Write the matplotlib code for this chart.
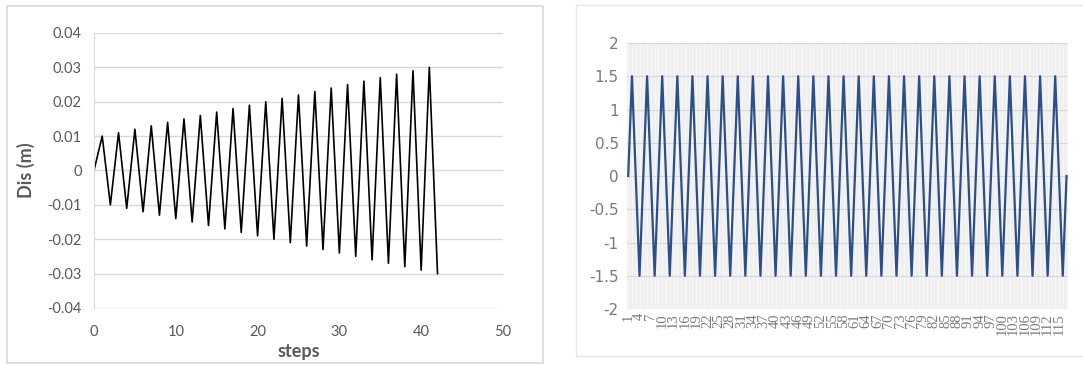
import matplotlib

matplotlib.use("Agg")
import matplotlib.pyplot as plt
from matplotlib.patches import Rectangle

# left panel: displacement protocol
steps = list(range(0, 43))
dis = [
    0.0,
    0.010, -0.010, 0.011, -0.011, 0.012, -0.012, 0.013, -0.013,
    0.014, -0.014, 0.015, -0.015, 0.016, -0.016, 0.017, -0.017,
    0.018, -0.018, 0.019, -0.019, 0.020, -0.020, 0.021, -0.021,
    0.022, -0.022, 0.023, -0.023, 0.024, -0.024, 0.025, -0.025,
    0.026, -0.026, 0.027, -0.027, 0.028, -0.028, 0.029, -0.029,
    0.030, -0.030,
]
left_yticks = [-0.04, -0.03, -0.02, -0.01, 0, 0.01, 0.02, 0.03, 0.04]
left_ylabels = ["-0.04", "-0.03", "-0.02", "-0.01", "0", "0.01", "0.02", "0.03", "0.04"]
left_xticks = [0, 10, 20, 30, 40, 50]

# right panel: constant amplitude cycles
categories = list(range(1, 118))
amp = [
    0, 1.5, 0, -1.5, 0, 1.5, 0, -1.5, 0, 1.5, 0, -1.5,
    0, 1.5, 0, -1.5, 0, 1.5, 0, -1.5, 0, 1.5, 0, -1.5,
    0, 1.5, 0, -1.5, 0, 1.5, 0, -1.5, 0, 1.5, 0, -1.5,
    0, 1.5, 0, -1.5, 0, 1.5, 0, -1.5, 0, 1.5, 0, -1.5,
    0, 1.5, 0, -1.5, 0, 1.5, 0, -1.5, 0, 1.5, 0, -1.5,
    0, 1.5, 0, -1.5, 0, 1.5, 0, -1.5, 0, 1.5, 0, -1.5,
    0, 1.5, 0, -1.5, 0, 1.5, 0, -1.5, 0, 1.5, 0, -1.5,
    0, 1.5, 0, -1.5, 0, 1.5, 0, -1.5, 0, 1.5, 0, -1.5,
    0, 1.5, 0, -1.5, 0, 1.5, 0, -1.5, 0, 1.5, 0, -1.5,
    0, 1.5, 0, -1.5, 0, 1.5, 0, -1.5,
    0,
]
right_yticks = [-2, -1.5, -1, -0.5, 0, 0.5, 1, 1.5, 2]
right_ylabels = ["-2", "-1.5", "-1", "-0.5", "0", "0.5", "1", "1.5", "2"]
right_xlabels = [str(c) for c in categories[::3]]

GREY = "#595959"
GRID = "#d9d9d9"

plt.rcParams["font.family"] = ["Lato", "DejaVu Sans"]

fig = plt.figure(figsize=(10.83, 3.66), dpi=100)

# chart-area frames
fig.patches.append(Rectangle((7 / 1083, 3 / 366), 536 / 1083, 357 / 366,
                             transform=fig.transFigure, fill=False,
                             edgecolor="#d9d9d9", lw=1.2))
fig.patches.append(Rectangle((576 / 1083, 10 / 366), 520 / 1083, 351 / 366,
                             transform=fig.transFigure, fill=False,
                             edgecolor="#e6e6e6", lw=1.0))

# ---- left
ax = fig.add_axes([0.0868, 0.1585, 0.3776, 0.7514])
ax.plot(steps, dis, color="black", lw=1.2)
ax.set_xlim(0, 50)
ax.set_ylim(-0.04, 0.04)
ax.set_yticks(left_yticks, left_ylabels)
ax.set_xticks(left_xticks)
ax.grid(axis="y", color=GRID, lw=1)
ax.set_axisbelow(True)
for s in ("top", "right", "bottom"):
    ax.spines[s].set_visible(False)
ax.spines["left"].set_color(GRID)
ax.tick_params(length=0, labelsize=10.5, colors=GREY, pad=9)
ax.tick_params(axis="x", pad=12)
ax.set_xlabel("steps", fontsize=13, fontweight="bold", color=GREY, labelpad=3)
ax.set_ylabel("Dis (m)", fontsize=13, fontweight="bold", color=GREY, labelpad=9)

# ---- right
ax2 = fig.add_axes([0.579, 0.1557, 0.4072, 0.7268])
ax2.set_facecolor("#efefef")
ax2.plot(categories, amp, color="#2c4e8a", lw=1.6)
ax2.set_xlim(0.7, 117.4)
ax2.set_ylim(-2, 2)
ax2.set_yticks(right_yticks, right_ylabels)
ax2.set_xticks(categories[::3], right_xlabels, rotation=90)
ax2.set_xticks(categories, minor=True)
ax2.grid(axis="x", which="both", color="#f8f8f8", lw=0.6)
ax2.grid(axis="y", which="major", color="#d9d9d9", lw=0.8)
ax2.set_axisbelow(True)
for s in ax2.spines.values():
    s.set_visible(False)
ax2.tick_params(which="both", length=0, colors="#7a7a7a")
ax2.tick_params(axis="y", labelsize=11, pad=6)
ax2.tick_params(axis="x", labelsize=10.5, pad=3)
for t in ax2.get_yticklabels():
    t.set_family(["Liberation Sans Narrow", "DejaVu Sans"])
for t in ax2.get_xticklabels():
    t.set_family(["Liberation Serif", "DejaVu Serif"])

fig.savefig("out.png", dpi=100)
